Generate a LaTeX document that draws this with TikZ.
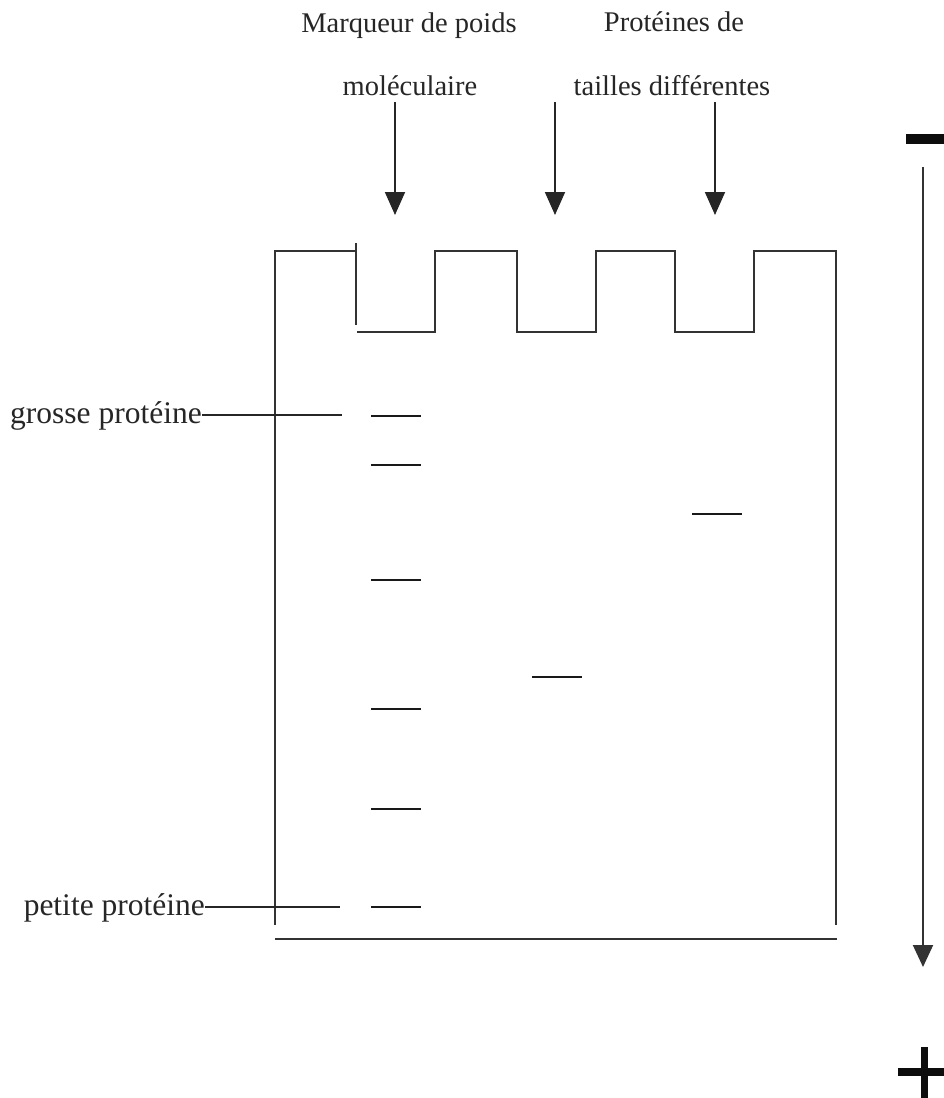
\documentclass[tikz,border=0pt]{standalone}
\usepackage{fontspec}
\setmainfont{Liberation Serif}
\usetikzlibrary{arrows.meta}

\tikzset{
  gel/.style={draw=black!80, line width=2pt},
  band/.style={draw=black!90, line width=2.2pt},
  lead/.style={draw=black!85, line width=1.5pt},
  loadarrow/.style={draw=black!85, line width=1.8pt, -{Triangle[length=23pt,width=20pt]}},
  toplabel/.style={font=\fontsize{28.5}{34}\selectfont, inner sep=0pt, anchor=base, text=black!85},
  sidelabel/.style={font=\fontsize{31.5}{38}\selectfont, inner sep=0pt, anchor=base east, text=black!85},
}

\begin{document}
\begin{tikzpicture}[x=1pt, y=-1pt]
  \useasboundingbox (0,0) rectangle (944,1098);

  % headings above the lanes
  \node[toplabel] (mk1) at (409,32) {Marqueur de poids};
  \node[toplabel] (mk2) at (410,95) {moléculaire};
  \node[toplabel] (pr1) at (674,31) {Protéines de};
  \node[toplabel] (pr2) at (672,95) {tailles différentes};

  % loading arrows into the wells
  \coordinate (a1s) at (395,102);  \coordinate (a1e) at (395,215);
  \coordinate (a2s) at (555,102);  \coordinate (a2e) at (555,215);
  \coordinate (a3s) at (715,102);  \coordinate (a3e) at (715,215);
  \draw[loadarrow] (a1s) -- (a1e);
  \draw[loadarrow] (a2s) -- (a2e);
  \draw[loadarrow] (a3s) -- (a3e);

  % gel outline with its wells
  \draw[gel] (275,925) -- (275,250.5) -- (355.5,250.5);
  \draw[gel] (355.5,243) -- (355.5,325);
  \draw[gel] (357,332) -- (435,332) -- (435,250.5) -- (517,250.5) -- (517,332)
             -- (596,332) -- (596,250.5) -- (675,250.5) -- (675,332)
             -- (754,332) -- (754,250.5) -- (836,250.5) -- (836,925);
  \draw[gel] (275,939) -- (837,939);

  % marker lane bands
  \foreach \y in {416,465,580,709,809,907}
    \draw[band] (371,\y) -- (421,\y);
  % sample bands
  \draw[band] (532,677) -- (582,677);
  \draw[band] (692,514) -- (742,514);

  % side labels with their leaders
  \node[sidelabel] (big) at (202,423) {grosse protéine};
  \node[sidelabel] (small) at (205,915) {petite protéine};
  \coordinate (bigE) at (342,415);
  \coordinate (smallE) at (340,907);
  \draw[lead] ([yshift=8pt]big.base east) -- (bigE);
  \draw[lead] ([yshift=8pt]small.base east) -- (smallE);

  % migration direction, from the cathode to the anode
  \coordinate (migS) at (923,167);
  \coordinate (migE) at (923,967);
  \draw[draw=black!80, line width=2pt, -{Triangle[length=22pt,width=20pt]}] (migS) -- (migE);

  % minus and plus poles
  \fill[black!95] (906,134) rectangle (944,144);
  \fill[black!95] (898,1068) rectangle (944,1076);
  \fill[black!95] (920.5,1047) rectangle (927.5,1098);
\end{tikzpicture}
\end{document}
